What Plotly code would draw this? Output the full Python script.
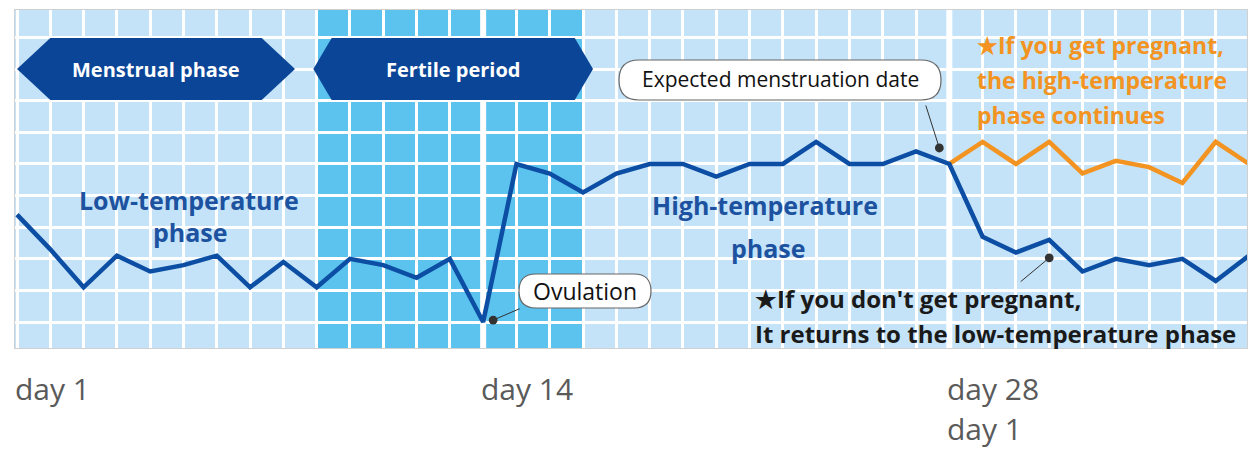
import plotly.graph_objects as go

# ---------------- data ----------------
grid_day = list(range(38))  # grid column index (day 1 at column 0)
blue_temp = [36.34, 36.23, 36.11, 36.21, 36.16, 36.18, 36.21, 36.11, 36.19, 36.11,
             36.20, 36.18, 36.14, 36.20, 36.00, 36.50, 36.47, 36.41, 36.47, 36.50,
             36.50, 36.46, 36.50, 36.50, 36.57, 36.50, 36.50, 36.54, 36.50, 36.27,
             36.22, 36.26, 36.16, 36.20, 36.18, 36.20, 36.13, 36.21]
orange_day = list(range(28, 38))
orange_temp = [36.50, 36.57, 36.50, 36.57, 36.47, 36.51, 36.49, 36.44, 36.57, 36.50]

tick_days = [0, 14, 28]
tick_labels = ["day 1", "day 14", "day 28<br>day 1"]

phase_names = ["Menstrual phase", "Fertile period"]
phase_start = [0.0, 8.9]
phase_end = [8.35, 17.3]
phase_tip = [1.0, 0.55]
fertile_start, fertile_end = 9, 17
ovulation_day, period_day = 14, 28

# ---------------- layout constants ----------------
W, H = 1249, 450
ML, MR, MT, MB = 15, 2, 10, 102
X0, X1 = -0.06, 36.94
Y0, Y1 = 35.918, 36.987
PXX = (W - ML - MR) / (X1 - X0)
PXY = (H - MT - MB) / (Y1 - Y0)


def px_x(p):
    return X0 + (p - ML) / PXX


def px_y(p):
    return Y1 - (p - MT) / PXY


LIGHT = "#c4e3f8"
DARK = "#5cc2ee"
NAVY = "#0b4597"
LINE_BLUE = "#0c4ea3"
ORANGE = "#f29322"
TEXT_BLUE = "#1c529f"
FONT = "Open Sans"

fig = go.Figure()

fig.add_trace(go.Scatter(x=orange_day, y=orange_temp, mode="lines",
                         line=dict(color=ORANGE, width=4.5), hoverinfo="skip",
                         showlegend=False))
fig.add_trace(go.Scatter(x=grid_day, y=blue_temp, mode="lines",
                         line=dict(color=LINE_BLUE, width=4.5), hoverinfo="skip",
                         showlegend=False))

shapes = []
# fertile band
shapes.append(dict(type="rect", xref="x", yref="y", x0=fertile_start, x1=fertile_end,
                   y0=Y0, y1=Y1, fillcolor=DARK, line=dict(width=0), layer="below"))
# thick white lines at ovulation and period
for d in [ovulation_day, period_day]:
    shapes.append(dict(type="line", xref="x", yref="y", x0=d, x1=d, y0=Y0, y1=Y1,
                       line=dict(color="white", width=6), layer="between"))

# hexagon phase banners
hy_c = px_y(69)
hy_t = px_y(38)
hy_b = px_y(100)
for s, e, t in zip(phase_start, phase_end, phase_tip):
    path = (f"M {s},{hy_c} L {s + t},{hy_t} L {e - t},{hy_t} L {e},{hy_c} "
            f"L {e - t},{hy_b} L {s + t},{hy_b} Z")
    shapes.append(dict(type="path", xref="x", yref="y", path=path,
                       fillcolor=NAVY, line=dict(width=0), layer="above"))


def pill(cx, cy, w, h, r):
    hw, hh = w / 2, h / 2
    path = (f"M {-hw + r},{-hh} L {hw - r},{-hh} Q {hw},{-hh} {hw},{-hh + r} "
            f"L {hw},{hh - r} Q {hw},{hh} {hw - r},{hh} L {-hw + r},{hh} "
            f"Q {-hw},{hh} {-hw},{hh - r} L {-hw},{-hh + r} Q {-hw},{-hh} {-hw + r},{-hh} Z")
    return dict(type="path", xref="x", yref="y", xsizemode="pixel", ysizemode="pixel",
                xanchor=cx, yanchor=cy, path=path, fillcolor="white",
                line=dict(color="#666666", width=1.2), layer="above")


shapes.append(pill(px_x(585), px_y(291), 132, 34, 17))
shapes.append(pill(px_x(780), px_y(80), 322, 40, 20))

annotations = []
# hexagon labels
for n, s, e in zip(phase_names, phase_start, phase_end):
    annotations.append(dict(x=(s + e) / 2, y=hy_c, xref="x", yref="y", text=f"<b>{n}</b>",
                            showarrow=False, font=dict(family=FONT, size=20, color="white")))

# callout texts
annotations.append(dict(x=px_x(585), y=px_y(291), xref="x", yref="y", text="Ovulation",
                        showarrow=False, font=dict(family=FONT, size=23, color="#111")))
annotations.append(dict(x=px_x(780), y=px_y(79), xref="x", yref="y",
                        text="Expected menstruation date",
                        showarrow=False, font=dict(family=FONT, size=21, color="#111")))

# leader lines with dots
leaders = [
    (ovulation_day + 10 / PXX, blue_temp[ovulation_day] + 2 / PXY, 28, -12),
    (period_day - 10 / PXX, blue_temp[period_day] + 16 / PXY, -14, -44),
    (31, blue_temp[31] - 18 / PXY, -30, 25),
]
for x, y, ax, ay in leaders:
    annotations.append(dict(x=x, y=y, xref="x", yref="y", ax=ax, ay=ay, text="",
                            showarrow=True, arrowhead=6, arrowsize=2.2, arrowwidth=1,
                            arrowcolor="#333", font=dict(size=1)))

# phase labels
blue_labels = [("Low-temperature", 189, 200), ("phase", 190, 232),
               ("High-temperature", 765, 205), ("phase", 768, 248)]
for t, px, py in blue_labels:
    annotations.append(dict(x=px_x(px), y=px_y(py), xref="x", yref="y", text=f"<b>{t}</b>",
                            showarrow=False, font=dict(family=FONT, size=25, color=TEXT_BLUE)))

orange_lines = ["★If you get pregnant,", "the high-temperature", "phase continues"]
for k, t in enumerate(orange_lines):
    annotations.append(dict(x=px_x(975), y=px_y(45 + 35 * k), xref="x", yref="y",
                            text=f"<b>{t}</b>", xanchor="left", showarrow=False,
                            font=dict(family=FONT, size=23, color=ORANGE)))

black_lines = ["★If you don't get pregnant,", "It returns to the low-temperature phase"]
for k, t in enumerate(black_lines):
    annotations.append(dict(x=px_x(753), y=px_y(298 + 35 * k), xref="x", yref="y",
                            text=f"<b>{t}</b>", xanchor="left", showarrow=False,
                            font=dict(family=FONT, size=24, color="#1a1a1a")))

# day labels (each line placed separately)
for d, lab in zip(tick_days, tick_labels):
    for k, part in enumerate(lab.split("<br>")):
        annotations.append(dict(x=d, y=0, xref="x", yref="paper", text=part,
                                xanchor="left", yanchor="middle", xshift=-4,
                                yshift=-(388 - (H - MB)) - 40 * k, showarrow=False,
                                font=dict(family=FONT, size=30, color="#5a5a5a")))

fig.update_layout(
    width=W, height=H,
    margin=dict(l=ML, r=MR, t=MT, b=MB, autoexpand=False),
    paper_bgcolor="white",
    plot_bgcolor=LIGHT,
    shapes=shapes,
    annotations=annotations,
    xaxis=dict(range=[X0, X1], tick0=0, dtick=1, showgrid=True, gridcolor="white",
               gridwidth=3, showticklabels=False, ticks="", zeroline=False,
               showline=True, mirror=True, linecolor="#d0d0d0", linewidth=1),
    yaxis=dict(range=[Y0, Y1], tick0=36.0, dtick=0.1, showgrid=True, gridcolor="white",
               gridwidth=3, showticklabels=False, ticks="", zeroline=False,
               showline=True, mirror=True, linecolor="#d0d0d0", linewidth=1),
)

fig.write_html("out.html", config={"displayModeBar": False},
               post_script="document.body.style.margin='0';document.body.style.overflow='hidden';")
